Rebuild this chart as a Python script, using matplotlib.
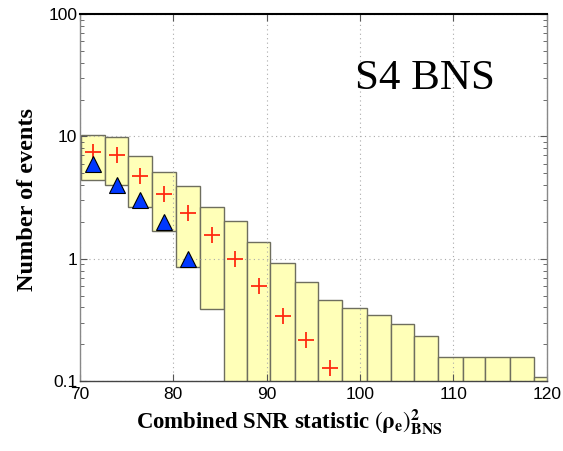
import numpy as np
import matplotlib
matplotlib.use("Agg")
import matplotlib.pyplot as plt
from matplotlib.ticker import FixedLocator, LogLocator, NullFormatter

# bin edges of the background histogram
bin_edges = [70.1, 72.7, 75.2, 77.7, 80.3, 82.9, 85.4, 87.9, 90.4, 93.0, 95.5,
             98.1, 100.7, 103.3, 105.8, 108.4, 111.0, 113.4, 116.1, 118.6, 121.2]
band_upper = [10.3, 9.9, 6.95, 5.1, 3.9, 2.63, 2.02, 1.37, 0.92, 0.65, 0.46,
              0.395, 0.344, 0.294, 0.232, 0.156, 0.156, 0.156, 0.156, 0.108]
band_lower = [4.4, 4.0, 2.63, 1.67, 0.85, 0.39, 1e-3, 1e-3, 1e-3, 1e-3, 1e-3,
              1e-3, 1e-3, 1e-3, 1e-3, 1e-3, 1e-3, 1e-3, 1e-3, 1e-3]
background_mean = [7.45, 7.1, 4.7, 3.38, 2.36, 1.55, 1.0, 0.594, 0.342, 0.217, 0.128]
foreground = [6, 4, 3, 2, 1]

y_ticks = [0.1, 1, 10, 100]
y_tick_labels = ["0.1", "1", "10", "100"]
x_ticks = [70, 80, 90, 100, 110, 120]

edges = np.array(bin_edges)
lefts = edges[:-1]
widths = np.diff(edges)
centers = lefts + widths / 2
upper = np.array(band_upper)
lower = np.array(band_lower)

plt.rcParams["font.family"] = ["Liberation Sans", "DejaVu Sans"]
plt.rcParams["mathtext.fontset"] = "stix"

fig = plt.figure(figsize=(5.63, 4.51), dpi=100)
ax = fig.add_axes([0.142, 0.155, 0.829, 0.814])

ax.bar(lefts, upper - lower, bottom=lower, width=widths, align="edge",
       color="#ffffb8", edgecolor="#6e6e5e", linewidth=1.0, zorder=1)

ax.plot(centers[:len(background_mean)], background_mean, linestyle="none",
        marker="+", markersize=12, markeredgewidth=1.3, color="#ff2a10", zorder=3)
ax.plot(centers[:len(foreground)], foreground, linestyle="none",
        marker="^", markersize=12, markerfacecolor="#0038ff",
        markeredgecolor="black", markeredgewidth=0.8, zorder=4)

ax.set_yscale("log")
ax.set_xlim(70, 120)
ax.set_ylim(0.1, 100)

ax.yaxis.set_major_locator(FixedLocator(y_ticks))
ax.set_yticklabels(y_tick_labels)
ax.yaxis.set_minor_locator(LogLocator(base=10, subs=np.arange(2, 10)))
ax.yaxis.set_minor_formatter(NullFormatter())
ax.set_xticks(x_ticks)

ax.tick_params(which="both", direction="in", top=True, right=True,
               labelsize=12.5, pad=2, color="#555555")
ax.tick_params(axis="x", pad=4)
ax.tick_params(which="major", length=5)
ax.tick_params(which="minor", length=3)

ax.grid(True, which="major", linestyle=(0, (1, 3)), color="#aaaaaa", linewidth=0.8)

for side in ["left", "right", "bottom"]:
    ax.spines[side].set_color("#888888")
    ax.spines[side].set_linewidth(1.0)
ax.spines["bottom"].set_color("#444444")
ax.spines["top"].set_color("black")
ax.spines["top"].set_linewidth(1.5)

ax.text(99.5, 24.6, "S4 BNS", fontsize=31, family="Liberation Serif", va="baseline")

ax.set_ylabel("Number of events", fontsize=17.5, fontweight="bold",
              family="Liberation Serif")
ax.yaxis.set_label_coords(-0.09, 0.496)
ax.set_xlabel(r"Combined SNR statistic $(\mathbf{\rho_e})^{\mathbf{2}}_{\mathbf{BNS}}$",
              fontsize=16.4, fontweight="bold", family="Liberation Serif")
ax.xaxis.set_label_coords(0.45, -0.072)

fig.savefig("out.png", dpi=100)
